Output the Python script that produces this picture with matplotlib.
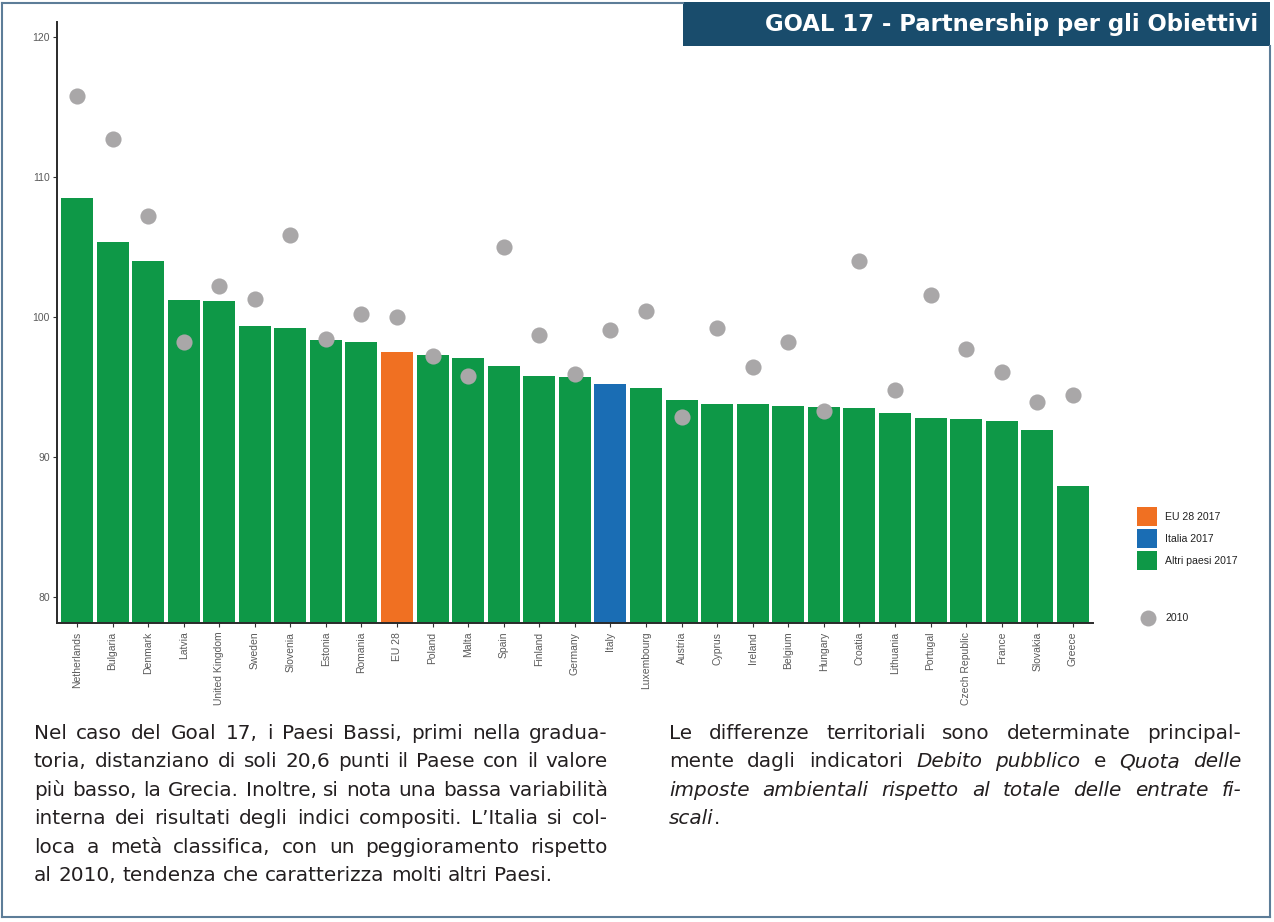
import matplotlib
matplotlib.use('Agg')
import matplotlib.pyplot as plt
from matplotlib.patches import Rectangle
from matplotlib.lines import Line2D

# ---------------- data ----------------
countries = ['Netherlands', 'Bulgaria', 'Denmark', 'Latvia', 'United Kingdom', 'Sweden',
             'Slovenia', 'Estonia', 'Romania', 'EU 28', 'Poland', 'Malta', 'Spain',
             'Finland', 'Germany', 'Italy', 'Luxembourg', 'Austria', 'Cyprus', 'Ireland',
             'Belgium', 'Hungary', 'Croatia', 'Lithuania', 'Portugal', 'Czech Republic',
             'France', 'Slovakia', 'Greece']
values_2017 = [108.5, 105.4, 104.0, 101.25, 101.15, 99.35, 99.25, 98.35, 98.2, 97.5,
               97.3, 97.1, 96.5, 95.75, 95.7, 95.2, 94.95, 94.1, 93.8, 93.8,
               93.65, 93.55, 93.5, 93.15, 92.75, 92.7, 92.55, 91.95, 87.9]
values_2010 = [115.8, 112.7, 107.2, 98.2, 102.2, 101.3, 105.9, 98.4, 100.2, 100.0,
               97.25, 95.8, 105.0, 98.7, 95.9, 99.1, 100.4, 92.85, 99.2, 96.45,
               98.25, 93.3, 104.0, 94.75, 101.6, 97.75, 96.05, 93.9, 94.45]
yticks = [80, 90, 100, 110, 120]
legend_labels = ['EU 28 2017', 'Italia 2017', 'Altri paesi 2017']
dot_label = '2010'
title = 'GOAL 17 - Partnership per gli Obiettivi'

GREEN = '#0e9847'
ORANGE = '#f07022'
BLUE = '#1a6db4'
GREY = '#a9a7a8'
HEADER = '#194c6c'
FRAME = '#5d7d98'
TXT = '#231f20'

bar_colors = []
for c in countries:
    if c == 'EU 28':
        bar_colors.append(ORANGE)
    elif c == 'Italy':
        bar_colors.append(BLUE)
    else:
        bar_colors.append(GREEN)

W, H = 1274, 922
fig = plt.figure(figsize=(W / 100, H / 100), dpi=100)
renderer = fig.canvas.get_renderer()


def px(x, y):
    return x / W, 1 - y / H


def text_width(s, **kw):
    t = fig.text(0, 0, s, **kw)
    w = t.get_window_extent(renderer).width
    t.remove()
    return w


# ---------------- chart ----------------
x0p, x1p, ytop, ybot = 56.7, 1092.7, 22, 623.3
ax = fig.add_axes([x0p / W, 1 - ybot / H, (x1p - x0p) / W, (ybot - ytop) / H])
pos = list(range(len(countries)))
ax.bar(pos, values_2017, width=0.9, color=bar_colors, zorder=1)
ax.scatter(pos, values_2010, s=135, color=GREY, zorder=3, linewidths=0)
ax.set_xlim(-0.57, 28.56)
ax.set_ylim(78.1, 121.1)
ax.set_yticks(yticks)
ax.set_yticklabels([str(v) for v in yticks], fontsize=7.5, color='#5a5a5a',
                   family='Liberation Sans')
ax.set_xticks(pos)
ax.set_xticklabels(countries, rotation=90, fontsize=7.5, color='#5a5a5a',
                   family='Liberation Sans')
ax.tick_params(axis='both', length=3, width=0.8, color='#333333', pad=2)
ax.tick_params(axis='x', pad=3)
for s in ['top', 'right']:
    ax.spines[s].set_visible(False)
for s in ['left', 'bottom']:
    ax.spines[s].set_color('#2a2a2a')
    ax.spines[s].set_linewidth(1.4)
ax.set_facecolor('white')

# ---------------- legend ----------------
leg_colors = [ORANGE, BLUE, GREEN]
leg_y = [507.3, 529.3, 551.3]
for lab, col, yy in zip(legend_labels, leg_colors, leg_y):
    fx, fy = px(1137.3, yy + 18.7)
    fig.add_artist(Rectangle((fx, fy), 20 / W, 18.7 / H, transform=fig.transFigure,
                             facecolor=col, edgecolor='none'))
    fig.text(*px(1165, yy + 9.5), lab, fontsize=7.6, color='#222222',
             family='Liberation Sans', va='center', ha='left')
fig.add_artist(Line2D([1148.3 / W], [1 - 617.7 / H], marker='o', markersize=11.5,
                      color=GREY, markeredgewidth=0, transform=fig.transFigure))
fig.text(*px(1165, 617.7), dot_label, fontsize=7.6, color='#222222',
         family='Liberation Sans', va='center', ha='left')

# ---------------- header ----------------
fx, fy = px(683, 46)
fig.add_artist(Rectangle((fx, fy), (1270 - 683) / W, 44 / H, transform=fig.transFigure,
                         facecolor=HEADER, edgecolor='none'))
hw = text_width(title, fontsize=10, weight='bold', family='DejaVu Sans')
hsize = 10 * 493 / hw
fig.text(*px(1258, 24), title, fontsize=hsize, weight='bold', family='DejaVu Sans',
         color='white', ha='right', va='center')

# ---------------- frame ----------------
frame_lines = [((2, 3), (2, 917)), ((2, 917), (1270, 917)), ((1270, 46), (1270, 917)),
               ((2, 3), (683, 3))]
for (xa, ya), (xb, yb) in frame_lines:
    fig.add_artist(Line2D([xa / W, xb / W], [1 - ya / H, 1 - yb / H], color=FRAME,
                          linewidth=1.5, transform=fig.transFigure))

# ---------------- paragraphs ----------------
N, I = 'normal', 'italic'


def plain(s):
    return [[(w, N)] for w in s.split()]


left_lines = [
    plain('Nel caso del Goal 17, i Paesi Bassi, primi nella gradua-'),
    plain('toria, distanziano di soli 20,6 punti il Paese con il valore'),
    plain('più basso, la Grecia. Inoltre, si nota una bassa variabilità'),
    plain('interna dei risultati degli indici compositi. L’Italia si col-'),
    plain('loca a metà classifica, con un peggioramento rispetto'),
    plain('al 2010, tendenza che caratterizza molti altri Paesi.'),
]
right_lines = [
    plain('Le differenze territoriali sono determinate principal-'),
    plain('mente dagli indicatori') + [[(w, I)] for w in 'Debito pubblico'.split()]
    + [[('e', N)]] + [[(w, I)] for w in 'Quota delle'.split()],
    [[(w, I)] for w in 'imposte ambientali rispetto al totale delle entrate fi-'.split()],
    [[('scali', I), ('.', N)]],
]

FAM = 'DejaVu Sans'


def word_w(word, size):
    return sum(text_width(seg, fontsize=size, style=st, family=FAM) for seg, st in word)


def space_w(size):
    return text_width('a a', fontsize=size, family=FAM) - text_width('aa', fontsize=size, family=FAM)


def natural(line, size):
    return sum(word_w(w, size) for w in line) + space_w(size) * (len(line) - 1)


scales = []
for lines, xa, xb in [(left_lines, 34, 608), (right_lines, 669, 1241)]:
    for ln in lines[:-1]:
        scales.append((xb - xa) / natural(ln, 10))
size = 10 * min(scales) * 0.99


def draw_par(lines, xa, xb, ybase, dy):
    sp = space_w(size)
    for i, ln in enumerate(lines):
        ws = [word_w(w, size) for w in ln]
        if i < len(lines) - 1 and len(ln) > 1:
            gap = (xb - xa - sum(ws)) / (len(ln) - 1)
        else:
            gap = sp
        x = xa
        y = ybase + i * dy
        for word, wd in zip(ln, ws):
            xx = x
            for seg, st in word:
                fig.text(*px(xx, y), seg, fontsize=size, style=st, family=FAM,
                         color=TXT, ha='left', va='baseline')
                xx += text_width(seg, fontsize=size, style=st, family=FAM)
            x += wd + gap


draw_par(left_lines, 34, 608, 739, 28.4)
draw_par(right_lines, 669, 1241, 739, 28.4)

fig.savefig('out.png', dpi=100, facecolor='white')
